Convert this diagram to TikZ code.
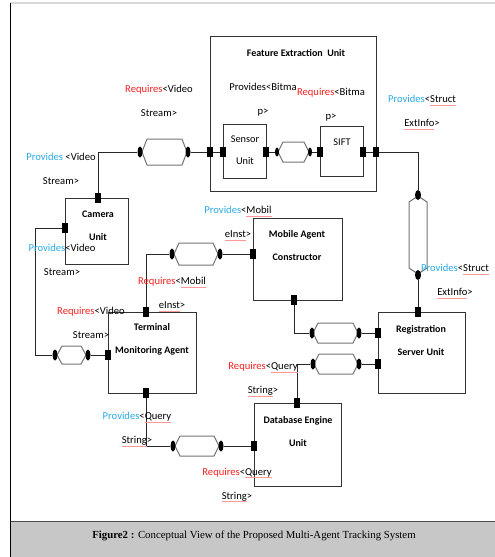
\documentclass[tikz,border=0pt]{standalone}
\usepackage{fontspec}
\setmainfont{Carlito}
\newfontfamily\capfont{Liberation Serif}
\usetikzlibrary{shapes.geometric}
\definecolor{provblue}{RGB}{40,170,230}
\definecolor{reqred}{RGB}{250,30,30}
\newcommand\hcaps[4]{\draw[caps] (#1,#3) -- (#1+5,#3-#4) -- (#2-5,#3-#4) -- (#2,#3) -- (#2-5,#3+#4) -- (#1+5,#3+#4) -- cycle;}
\newcommand\vcaps[4]{\draw[caps] (#3,#1) -- (#3-#4,#1+6) -- (#3-#4,#2-6) -- (#3,#2) -- (#3+#4,#2-6) -- (#3+#4,#1+6) -- cycle;}
\newcommand\prov{\textcolor{provblue}{Provides}}
\newcommand\reqr{\textcolor{reqred}{Requires}}
\newcommand\sq[1]{\setbox0\hbox{#1}\leavevmode\rlap{\color{red!40}\rule[-2.6pt]{\wd0}{0.5pt}}\box0}
\begin{document}
\begin{tikzpicture}[x=1pt,y=-1pt,
 box/.style={draw=black!80, line width=1.3pt, anchor=north west, inner sep=0},
 port/.style={fill=black, inner sep=0, minimum width=6pt, minimum height=10pt},
 dot/.style={ellipse, fill=black, inner sep=0, minimum width=5pt, minimum height=11pt},
 wire/.style={draw=black!85, line width=1pt},
 caps/.style={draw=black!55, line width=1pt},
 lbl/.style={font=\fontsize{10.6}{24}\selectfont, align=center, inner sep=0},
 ttl/.style={font=\bfseries\fontsize{10}{23}\selectfont, align=center, inner sep=0},
 plain/.style={font=\fontsize{10.3}{22}\selectfont, align=center, inner sep=0}]
\useasboundingbox (0,0) rectangle (495,557);
% frame and caption band
\fill[black!22] (10,521) rectangle (495,557);
\draw[black!70, line width=1pt] (10,521) -- (495,521);
\draw[black!15, line width=1.5pt] (10,3) -- (495,3);
\draw[black, line width=1pt] (10,3) -- (10,557);
\node[font=\capfont\fontsize{10.8}{12}\selectfont, inner sep=0] (cap) at (254,536) {\textbf{Figure2 :} Conceptual View of the Proposed Multi-Agent Tracking System};

% boxes
\node[box, minimum width=166pt, minimum height=155pt] (feu) at (210,36) {};
\node[box, minimum width=43pt, minimum height=54pt] (sen) at (223,124) {};
\node[box, minimum width=43pt, minimum height=50pt] (sift) at (320,126) {};
\node[box, minimum width=63pt, minimum height=66pt] (cam) at (65,198) {};
\node[box, minimum width=89pt, minimum height=82pt] (mac) at (253,218) {};
\node[box, minimum width=88pt, minimum height=81pt] (tma) at (108,312) {};
\node[box, minimum width=87pt, minimum height=81pt] (reg) at (378,312) {};
\node[box, minimum width=87pt, minimum height=83pt] (db) at (254,403) {};

% box texts
\node[ttl] (tfeu) at (296,53) {Feature Extraction\ \ Unit};
\node[plain] (tsen) at (245,150) {Sensor\\Unit};
\node[plain] (tsift) at (342,142) {SIFT};
\node[ttl] (tcam) at (98,225.5) {Camera\\Unit};
\node[ttl] (tmac) at (297,246) {Mobile Agent\\Constructor};
\node[ttl] (ttma) at (152,339.5) {Terminal\\Monitoring Agent};
\node[ttl] (treg) at (421,340.5) {Registration\\Server Unit};
\node[ttl] (tdb) at (298,432) {Database Engine\\Unit};

% capsules
\hcaps{142}{187}{152}{13}
\hcaps{278}{309}{152}{10}
\vcaps{196}{274}{418}{9}
\hcaps{174}{218}{254}{11}
\hcaps{313}{358}{333}{10}
\hcaps{314}{358}{364}{10}
\hcaps{57}{86}{355}{9}
\hcaps{175}{219}{446}{10}

% dots
\node[dot] (c1a) at (140,152) {};
\node[dot] (c1b) at (188,152) {};
\node[dot, minimum height=9pt, minimum width=4pt] (c2a) at (277,152) {};
\node[dot, minimum height=9pt, minimum width=4pt] (c2b) at (310,152) {};
\node[dot, minimum width=6pt, minimum height=10pt] (c3a) at (418,195) {};
\node[dot, minimum width=6pt, minimum height=10pt] (c3b) at (418,275) {};
\node[dot] (c4a) at (172,254) {};
\node[dot] (c4b) at (220,254) {};
\node[dot] (c5a) at (312,333) {};
\node[dot] (c5b) at (359,333) {};
\node[dot] (c6a) at (313,364) {};
\node[dot] (c6b) at (359,364) {};
\node[dot] (c7a) at (55,355) {};
\node[dot] (c7b) at (88,355) {};
\node[dot] (c8a) at (173,446) {};
\node[dot] (c8b) at (221,446) {};

% ports
\node[port] (pfeul) at (210,152) {};
\node[port] (psenl) at (223,152) {};
\node[port] (psenr) at (266,152) {};
\node[port] (psiftl) at (320,152) {};
\node[port] (psiftr) at (363,152) {};
\node[port] (pfeur) at (376,152) {};
\node[port] (pcamt) at (98,198) {};
\node[port] (pcaml) at (65,228) {};
\node[port] (ptmat) at (146,312) {};
\node[port] (ptmal) at (108,355) {};
\node[port] (ptmab) at (146,393) {};
\node[port] (pmacl) at (253,254) {};
\node[port] (pmacb) at (294,300) {};
\node[port] (pregt) at (418,312) {};
\node[port] (pregl1) at (378,333) {};
\node[port] (pregl2) at (378,364) {};
\node[port] (pdbt) at (297,403) {};
\node[port] (pdbl) at (254,446) {};

% connectors
\draw[wire] (c1b) -- (pfeul);
\draw[wire] (pfeul) -- (psenl);
\draw[wire] (c1a) -| (pcamt);
\draw[wire] (psenr) -- (c2a);
\draw[wire] (c2b) -- (psiftl);
\draw[wire] (psiftr) -- (pfeur);
\draw[wire] (pfeur) -| (c3a);
\draw[wire] (c3b) -- (pregt);
\draw[wire] (pcaml) -- (35,228) |- (c7a);
\draw[wire] (c7b) -- (ptmal);
\draw[wire] (ptmat) |- (c4a);
\draw[wire] (c4b) -- (pmacl);
\draw[wire] (pmacb) |- (c5a);
\draw[wire] (c5b) -- (pregl1);
\draw[wire] (pregl2) -- (c6b);
\draw[wire] (c6a) -| (pdbt);
\draw[wire] (ptmab) |- (c8a);
\draw[wire] (c8b) -- (pdbl);

% labels
\node[lbl] (l1) at (159,101) {\reqr<Video\\Stream>};
\node[lbl] (l2) at (61,168.5) {\prov\ <Video\\Stream>};
\node[lbl] (l3) at (263,99.5) {Provides<Bitma\\p>};
\node[lbl] (l4) at (331,104.5) {\reqr<Bitma\\p>};
\node[lbl] (l5) at (422,112.5) {\prov<\sq{Struct}\\\sq{ExtInfo}>};
\node[lbl] (l6) at (238,223.5) {\prov<\sq{Mobil}\\\sq{eInst}>};
\node[lbl] (l7) at (62,259.5) {\prov<Video\\Stream>};
\node[lbl] (l8) at (172,294.5) {\reqr<\sq{Mobil}\\\sq{eInst}>};
\node[lbl] (l9) at (455,281.5) {\prov<\sq{Struct}\\\sq{ExtInfo}>};
\node[lbl] (l10) at (91,323) {\reqr<Video\\Stream>};
\node[lbl] (l11) at (263,379.5) {\reqr<\sq{Query}\\\sq{String}>};
\node[lbl] (l12) at (137,429.5) {\prov<\sq{Query}\\\sq{String}>};
\node[lbl] (l13) at (237,485) {\reqr<\sq{Query}\\\sq{String}>};
\end{tikzpicture}
\end{document}
